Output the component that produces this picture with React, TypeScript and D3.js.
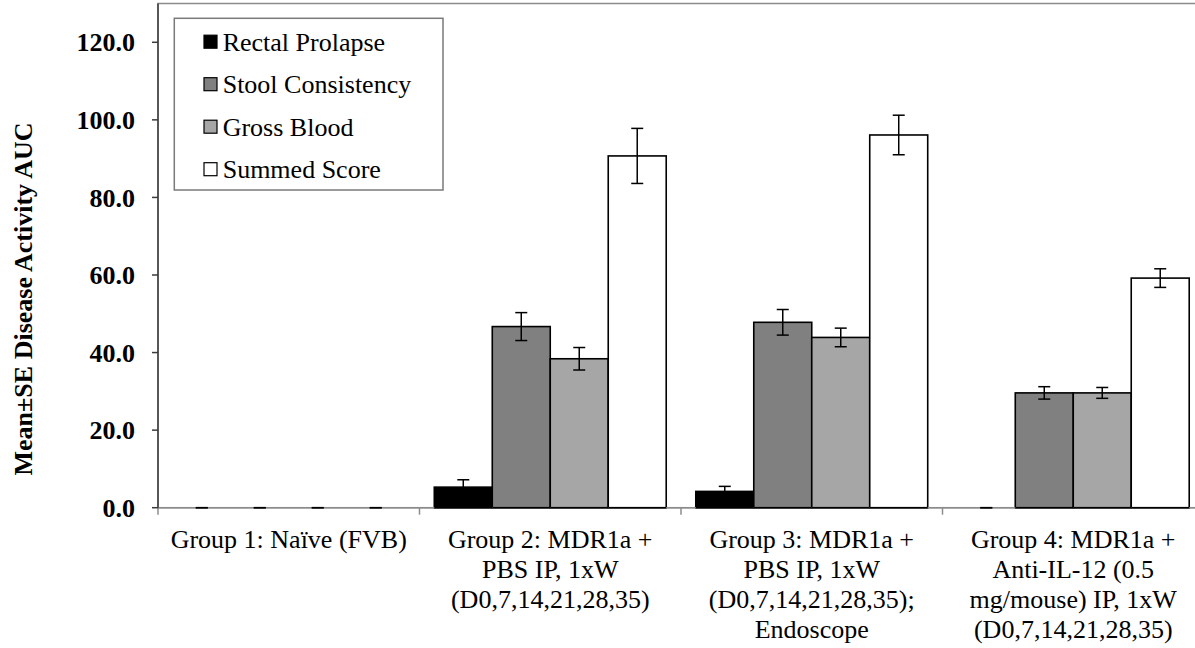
import React from "react";
import * as d3 from "d3";

const categories: string[][] = [
  ["Group 1: Naïve (FVB)"],
  ["Group 2: MDR1a +", "PBS IP, 1xW", "(D0,7,14,21,28,35)"],
  ["Group 3: MDR1a +", "PBS IP, 1xW", "(D0,7,14,21,28,35);", "Endoscope"],
  ["Group 4: MDR1a +", "Anti-IL-12 (0.5", "mg/mouse) IP, 1xW", "(D0,7,14,21,28,35)"],
];
const seriesNames = ["Rectal Prolapse", "Stool Consistency", "Gross Blood", "Summed Score"];
const seriesColors = ["#000000", "#808080", "#a6a6a6", "#ffffff"];

const rectalProlapse = [0, 5.3, 4.2, 0];
const rectalProlapseSE = [0, 1.9, 1.3, 0];
const stoolConsistency = [0, 46.7, 47.8, 29.6];
const stoolConsistencySE = [0, 3.6, 3.3, 1.6];
const grossBlood = [0, 38.4, 43.9, 29.6];
const grossBloodSE = [0, 2.9, 2.4, 1.4];
const summedScore = [0, 90.7, 96.1, 59.2];
const summedScoreSE = [0, 7.1, 5.1, 2.4];

const yTicks = [0, 20, 40, 60, 80, 100, 120];

const values = [rectalProlapse, stoolConsistency, grossBlood, summedScore];
const errors = [rectalProlapseSE, stoolConsistencySE, grossBloodSE, summedScoreSE];

const W = 1195;
const H = 648;
const left = 158;
const right = 1204;
const top = 3.5;
const bottom = 507.7;
const font = "'Liberation Serif', 'Times New Roman', Times, serif";
const fs = 26;

export default function App() {
  const x0 = d3
    .scaleBand<number>()
    .domain(d3.range(categories.length))
    .range([left, right])
    .padding(0);
  const x1 = d3
    .scaleBand<number>()
    .domain(d3.range(seriesNames.length))
    .range([0, x0.bandwidth()])
    .paddingInner(0)
    .paddingOuter(0.255);
  const y = d3.scaleLinear().domain([0, 130]).range([bottom, top]);
  const bw = x1.bandwidth();
  const cap = 6;

  return (
    <svg
      width={W}
      height={H}
      style={{ position: "absolute", left: 0, top: 0, background: "#fff" }}
      fontFamily={font}
    >
      {/* plot area border */}
      <rect x={left} y={top} width={right - left} height={bottom - top} fill="none" stroke="#8c8c8c" strokeWidth={1.5} />

      {/* bars */}
      {categories.map((_, ci) => (
        <g key={ci}>
          {seriesNames.map((_, si) => {
            const v = values[si][ci];
            const bx = x0(ci)! + x1(si)!;
            if (v <= 0) return null;
            return (
              <rect
                key={si}
                x={bx}
                y={y(v)}
                width={bw}
                height={y(0) - y(v)}
                fill={seriesColors[si]}
                stroke="#000"
                strokeWidth={1.6}
              />
            );
          })}
        </g>
      ))}

      {/* x axis */}
      <line x1={left} x2={right} y1={bottom} y2={bottom} stroke="#8c8c8c" strokeWidth={1.5} />
      {d3.range(categories.length + 1).map((i) => {
        const xx = left + i * x0.bandwidth();
        return <line key={i} x1={xx} x2={xx} y1={bottom} y2={bottom + 7} stroke="#8c8c8c" strokeWidth={1.5} />;
      })}

      {/* redraw bar bottoms over axis */}
      {categories.map((_, ci) =>
        seriesNames.map((_, si) => {
          const v = values[si][ci];
          if (v <= 0) return null;
          const bx = x0(ci)! + x1(si)!;
          return <line key={`b${ci}-${si}`} x1={bx} x2={bx + bw} y1={bottom} y2={bottom} stroke="#000" strokeWidth={1.6} />;
        })
      )}

      {/* error bars */}
      {categories.map((_, ci) =>
        seriesNames.map((_, si) => {
          const v = values[si][ci];
          const e = errors[si][ci];
          const cx = x0(ci)! + x1(si)! + bw / 2;
          const yt = y(v + e);
          const yb = y(Math.max(0, v - e));
          return (
            <g key={`e${ci}-${si}`} stroke="#000" strokeWidth={1.5}>
              <line x1={cx} x2={cx} y1={yt} y2={yb} />
              <line x1={cx - cap} x2={cx + cap} y1={yt} y2={yt} />
              <line x1={cx - cap} x2={cx + cap} y1={yb} y2={yb} />
            </g>
          );
        })
      )}

      {/* y axis */}
      <line x1={left} x2={left} y1={top} y2={bottom} stroke="#3c3c3c" strokeWidth={1.5} />
      {yTicks.map((t) => (
        <g key={t}>
          <line x1={left - 6} x2={left} y1={y(t)} y2={y(t)} stroke="#3c3c3c" strokeWidth={1.5} />
          <text x={135} y={y(t)} dy="0.35em" textAnchor="end" fontWeight="bold" fontSize={fs} fill="#000">
            {t.toFixed(1)}
          </text>
        </g>
      ))}

      {/* y axis title */}
      <text
        transform={`translate(32,299) rotate(-90)`}
        textAnchor="middle"
        fontWeight="bold"
        fontSize={fs}
        fill="#000"
      >
        Mean±SE Disease Activity AUC
      </text>

      {/* category labels */}
      {categories.map((lines, ci) => (
        <text key={ci} textAnchor="middle" fontSize={fs} fill="#000">
          {lines.map((ln, li) => (
            <tspan key={li} x={x0(ci)! + x0.bandwidth() / 2} y={548 + li * 30}>
              {ln}
            </tspan>
          ))}
        </text>
      ))}

      {/* legend */}
      <rect x={174.3} y={18.3} width={443 - 174.3} height={190 - 18.3} fill="#fff" stroke="#7a7a7a" strokeWidth={1.5} />
      {seriesNames.map((name, si) => {
        const cy = 41.7 + si * 42.5;
        return (
          <g key={name}>
            <rect x={204} y={cy - 6.5} width={13} height={13} fill={seriesColors[si]} stroke="#000" strokeWidth={1.2} />
            <text x={222.7} y={cy} dy="0.35em" fontSize={fs} fill="#000">
              {name}
            </text>
          </g>
        );
      })}
    </svg>
  );
}
